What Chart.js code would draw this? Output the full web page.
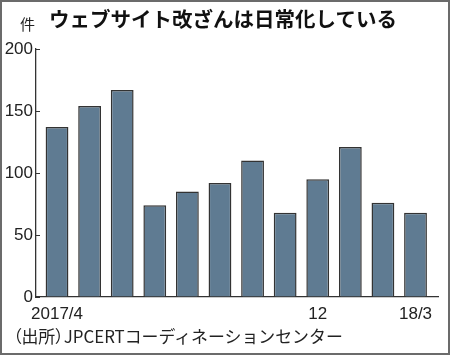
<!DOCTYPE html>
<html><head><meta charset="utf-8">
<script src="https://cdn.jsdelivr.net/npm/chart.js@4/dist/chart.umd.min.js"></script>
<style>
html,body{margin:0;padding:0;background:#fff;}
#wrap{position:relative;width:450px;height:355px;overflow:hidden;background:#fff;}
canvas{position:absolute;left:0;top:0;}
.frame{position:absolute;left:0;top:0;width:450px;height:355px;box-sizing:border-box;border:2px solid #6b6b6b;pointer-events:none;}
.title{position:absolute;left:49px;top:5px;font-family:"Noto Sans CJK JP",sans-serif;font-weight:700;font-size:20.5px;color:#111;white-space:nowrap;line-height:1.3;}
.unit{position:absolute;left:20px;top:14px;font-family:"Noto Sans CJK JP",sans-serif;font-size:15px;color:#222;line-height:1.3;}
.src{position:absolute;left:13px;top:326px;font-family:"Noto Sans CJK JP",sans-serif;font-size:16.9px;color:#222;white-space:nowrap;line-height:1.2;}
.p{font-feature-settings:"palt";}
</style></head>
<body><div id="wrap">
<canvas id="c" width="450" height="355"></canvas>
<div class="title">ウェブサイト改ざんは日常化している</div>
<div class="unit">件</div>
<div class="src"><span class="p">（</span>出所<span class="p">）</span>JPCERTコーディネーションセンター</div>
<div class="frame"></div>
</div>
<script>
const months = ['2017/4','5','6','7','8','9','10','11','12','18/1','2','18/3'];
const counts = [137, 154, 167, 74, 85, 92, 110, 68, 95, 121, 76, 68];
const shownMonthTicks = ['2017/4','12','18/3'];
const yTicks = [0, 50, 100, 150, 200];

const tickFont = {family: '"Liberation Sans Narrow","Liberation Sans","DejaVu Sans Condensed",sans-serif', size: 17};

new Chart(document.getElementById('c'), {
  type: 'bar',
  data: {
    datasets: [{
      data: months.map((m, i) => ({x: i, y: counts[i]})),
      backgroundColor: '#5f7b92',
      borderColor: '#333',
      borderWidth: 1.5,
      barPercentage: 0.7,
      categoryPercentage: 1
    }]
  },
  options: {
    responsive: false,
    animation: false,
    devicePixelRatio: 1,
    layout: {padding: {left: 0, right: 12, top: 49, bottom: 0}},
    plugins: {legend: {display: false}, tooltip: {enabled: false}},
    scales: {
      x: {
        type: 'linear',
        offset: false,
        min: -0.645,
        max: 11.69,
        afterFit: s => { s.height = 58; },
        afterBuildTicks: s => {
          s.ticks = shownMonthTicks.map(l => ({value: months.indexOf(l)}));
        },
        grid: {display: true, offset: false, drawOnChartArea: false, drawTicks: false},
        border: {display: true, color: '#333', width: 1.3},
        ticks: {
          padding: 7,
          color: '#222',
          font: tickFont,
          maxRotation: 0,
          autoSkip: false,
          callback: v => months[Math.round(v)]
        }
      },
      y: {
        min: 0,
        max: 200,
        afterFit: s => { s.width = 36; },
        afterBuildTicks: s => { s.ticks = yTicks.map(v => ({value: v})); },
        grid: {display: true, drawOnChartArea: false, drawTicks: true, tickLength: -4, color: '#333', lineWidth: 1},
        border: {display: true, color: '#333', width: 1.3},
        ticks: {padding: 7, color: '#222', font: tickFont}
      }
    }
  }
});
</script>
</body></html>
